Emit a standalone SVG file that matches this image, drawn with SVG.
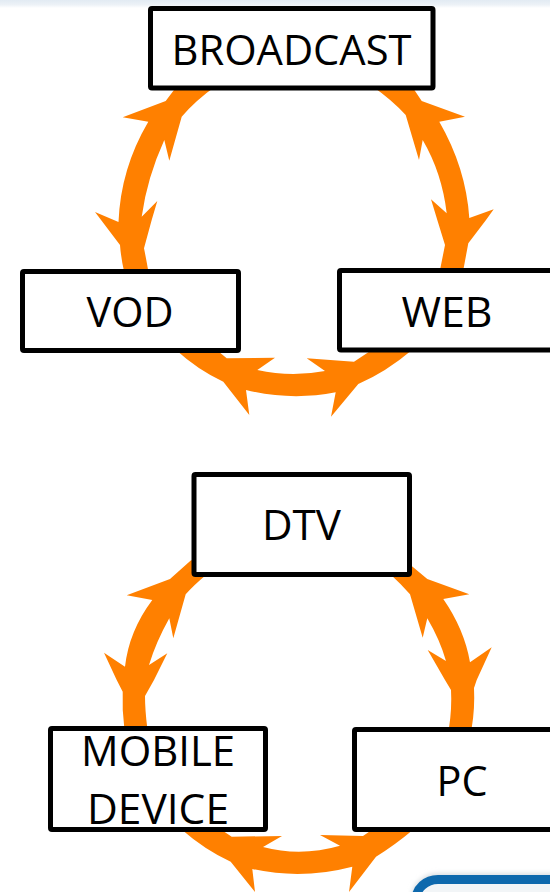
<svg xmlns="http://www.w3.org/2000/svg" width="550" height="892" viewBox="0 0 550 892">
<defs>
<linearGradient id="topbar" x1="0" y1="0" x2="0" y2="1"><stop offset="0" stop-color="#e2ebf3"/><stop offset="0.6" stop-color="#edf2f7"/><stop offset="1" stop-color="#ffffff"/></linearGradient>
<filter id="soft" x="-5%" y="-30%" width="110%" height="160%"><feGaussianBlur stdDeviation="2.5"/></filter>
</defs>
<style>
.box{fill:#fff;stroke:#000;stroke-width:5;stroke-linejoin:round}
.label{font-family:"Open Sans","Noto Sans",sans-serif;font-size:41.500px;fill:#000;text-anchor:middle}
.arc{fill:#ff8000;stroke:none}
</style>
<rect width="550" height="892" fill="#fff"/>
<rect width="550" height="8" fill="url(#topbar)"/>
<rect x="416" y="878" width="170" height="40" rx="22" fill="none" stroke="#d5dade" stroke-width="9" filter="url(#soft)"/>
<rect x="416" y="879.500" width="170" height="40" rx="22" fill="#f2f5f7" stroke="#0e69ad" stroke-width="9"/>
<g id="connectors">
<path class="arc" d="M177,86 L216,86 Q196,100 181.700,116.700 L169.300,160.700 L164.300,140 Q147,178 141.700,216.700 L157.300,201 L151.700,220 L144,248.300 Q146,258 148.300,271 L124,271 Q121,258 120,245 L95,212 L118.500,222 Q120.600,168.600 148.300,121.700 L122.700,117.300 L165.700,101 Z"/>
<path class="arc" d="M372,86 L411.700,86 L421.700,101 L465,116.700 L439.300,121.700 Q466,168 469.300,218 L493.700,209.300 L486,220 L468.300,243.300 L463.300,270 L440,270 L445,245 L437.300,220 L431,199.300 L446.700,213.300 Q442,173 422.700,140 L419,160 L405.700,115 Q392,100 372,86 Z"/>
<path class="arc" d="M176,350 L216.700,350 L226.700,358.300 L275,357.700 L257.300,370 Q291,377.500 325,371 L306.700,358.300 L354,361.700 L371.700,350 L412,350 Q386,372 358.300,384 L331,416.700 L335.700,392.300 Q291,401 246,390 L249.300,415 L223.300,381.700 Q198,370 176,350 Z"/>
<path class="arc" d="M191.300,560 L206,575 Q194,585 185.700,594.300 L173.300,638.300 L169.300,618.300 Q156,642 149,665 L167.300,653.300 L154,680 L145,696 Q145,710 147.300,728 L124.300,728 Q122,710 122.700,691.700 L116.700,680 L104,652.700 L125,666.700 Q129,631 152.300,600 L126.700,595.300 L170,579 Z"/>
<path class="arc" d="M389,573 L411.700,566 L427.300,579 L469.300,594.300 L443.300,599 Q464.400,629.500 470,662.300 L491.700,647.300 L476.700,680 L474,688 Q475,708 471.700,728 L449,728 Q452,708 451,690 L445,680 L427.700,650 L446,661 Q440,640 427.300,618.300 L422.700,637.700 L410,594.300 Q401,584 389,573 Z"/>
<path class="arc" d="M181,829 L221.700,830 L231.700,836.700 L282,836 L263,847 Q301,857 340,845.700 L320,835 L363,836 L371.700,830 L414,829 Q395,845 376,856.700 L349,892 L352.300,866.700 Q302,880 252.300,869 L255,892 L230.700,861.700 Q205,850 181,829 Z"/>
</g>
<g id="broadcast"><rect class="box" x="150.500" y="8.500" width="282.500" height="79.500" rx="1.500"/><text class="label" x="291.500" y="65" textLength="240" lengthAdjust="spacingAndGlyphs">BROADCAST</text></g>
<g id="vod"><rect class="box" x="22.500" y="271.500" width="216" height="79" rx="1.500"/><text class="label" x="130" y="327" textLength="87" lengthAdjust="spacingAndGlyphs">VOD</text></g>
<g id="web"><rect class="box" x="339.500" y="270.500" width="220" height="79.500" rx="1.500"/><text class="label" x="447" y="327" textLength="91" lengthAdjust="spacingAndGlyphs">WEB</text></g>
<g id="dtv"><rect class="box" x="194" y="474.500" width="215.500" height="100" rx="1.500"/><text class="label" x="301.500" y="540" textLength="79" lengthAdjust="spacingAndGlyphs">DTV</text></g>
<g id="mobile-device"><rect class="box" x="50.500" y="728.500" width="215" height="101" rx="1.500"/><text class="label" x="158" y="766" textLength="154" lengthAdjust="spacingAndGlyphs">MOBILE</text><text class="label" x="158" y="824" textLength="142" lengthAdjust="spacingAndGlyphs">DEVICE</text></g>
<g id="pc"><rect class="box" x="354.500" y="729.500" width="220" height="100" rx="1.500"/><text class="label" x="462" y="796" textLength="51" lengthAdjust="spacingAndGlyphs">PC</text></g>
</svg>
